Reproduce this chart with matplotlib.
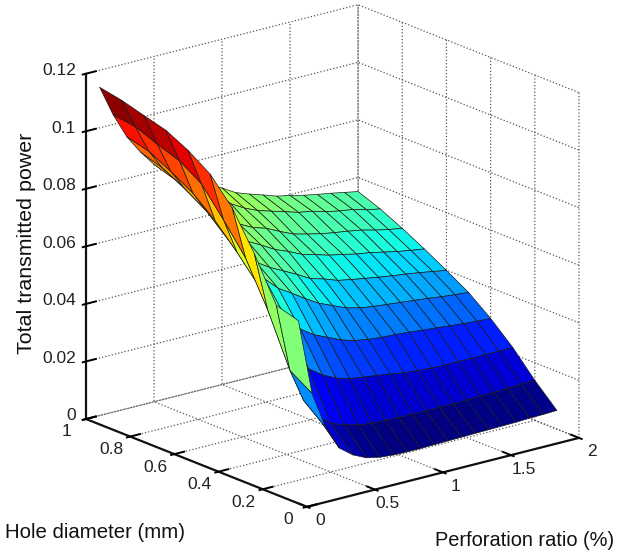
import matplotlib
matplotlib.use("Agg")
import matplotlib.pyplot as plt
import numpy as np
from mpl_toolkits.mplot3d import proj3d

# Axis grids
perforation = [0.1, 0.2, 0.3, 0.4, 0.5, 0.6, 0.7, 0.8, 0.9, 1.0,
               1.1, 1.2, 1.3, 1.4, 1.5, 1.6, 1.7, 1.8, 1.9, 2.0]
diameter = [0.1, 0.2, 0.3, 0.4, 0.5, 0.6, 0.7, 0.8, 0.9, 1.0]

# Transmitted power, one list per hole diameter
z_d01 = [.0604, .0340, .0209, .0126, .0090, .0068, .0058, .0054, .0053, .0053,
         .0054, .0055, .0056, .0057, .0058, .0059, .0060, .0062, .0063, .0065]
z_d02 = [.0627, .0389, .0273, .0208, .0169, .0152, .0140, .0133, .0131, .0130,
         .0129, .0129, .0129, .0129, .0130, .0132, .0133, .0135, .0137, .0139]
z_d03 = [.0777, .0568, .0449, .0381, .0328, .0295, .0272, .0258, .0251, .0245,
         .0238, .0230, .0226, .0223, .0221, .0221, .0221, .0222, .0222, .0223]
z_d04 = [.0905, .0718, .0606, .0528, .0470, .0424, .0392, .0371, .0350, .0336,
         .0328, .0323, .0321, .0317, .0312, .0308, .0303, .0299, .0295, .0293]
z_d05 = [.0992, .0820, .0695, .0625, .0580, .0535, .0506, .0475, .0447, .0427,
         .0407, .0395, .0388, .0383, .0378, .0373, .0368, .0362, .0357, .0353]
z_d06 = [.1044, .0915, .0775, .0695, .0640, .0595, .0565, .0541, .0517, .0490,
         .0477, .0460, .0451, .0443, .0435, .0428, .0422, .0415, .0407, .0399]
z_d07 = [.1083, .0965, .0840, .0765, .0710, .0665, .0625, .0600, .0573, .0554,
         .0532, .0519, .0505, .0496, .0485, .0478, .0468, .0458, .0450, .0443]
z_d08 = [.1104, .0992, .0885, .0815, .0755, .0705, .0665, .0643, .0619, .0604,
         .0581, .0560, .0548, .0537, .0529, .0522, .0514, .0502, .0492, .0484]
z_d09 = [.1126, .1023, .0925, .0855, .0800, .0755, .0720, .0688, .0671, .0644,
         .0623, .0609, .0595, .0581, .0573, .0559, .0550, .0543, .0530, .0521]
z_d10 = [.1141, .1033, .0945, .0880, .0825, .0785, .0750, .0725, .0705, .0683,
         .0655, .0638, .0623, .0607, .0597, .0586, .0577, .0569, .0560, .0551]

x_ticks = [0, 0.5, 1, 1.5, 2]
x_labels = ["0", "0.5", "1", "1.5", "2"]
y_ticks = [0, 0.2, 0.4, 0.6, 0.8, 1]
y_labels = ["0", "0.2", "0.4", "0.6", "0.8", "1"]
z_ticks = [0, 0.02, 0.04, 0.06, 0.08, 0.1, 0.12]
z_labels = ["0", "0.02", "0.04", "0.06", "0.08", "0.1", "0.12"]

W, H = 623, 554
TEXT = "#222222"

plt.rcParams["font.family"] = ["Liberation Sans", "DejaVu Sans"]
plt.rcParams["grid.linestyle"] = ":"
plt.rcParams["grid.color"] = "#555555"
plt.rcParams["grid.linewidth"] = 0.9

fig = plt.figure(figsize=(W / 100, H / 100), dpi=100, facecolor="white")
side = 500
ax = fig.add_axes([60 / W, 20 / H, side / W, side / H], projection="3d", proj_type="ortho")
ax.view_init(elev=18.5, azim=231.4)
ax.set_box_aspect((348, 354, 364))
ax.set_xlim(0, 2, view_margin=0)
ax.set_ylim(0, 1, view_margin=0)
ax.set_zlim(0, 0.12, view_margin=0)

X, Y = np.meshgrid(perforation, diameter)
Z = np.array([z_d01, z_d02, z_d03, z_d04, z_d05, z_d06, z_d07, z_d08, z_d09, z_d10])
colors = plt.cm.jet(plt.Normalize(Z.min(), Z.max())(Z))
ax.plot_surface(X, Y, Z, facecolors=colors, rstride=1, cstride=1, shade=False,
                edgecolor="#1a1a1a", linewidth=0.5, antialiased=True)

ax.set_xticks(x_ticks)
ax.set_yticks(y_ticks)
ax.set_zticks(z_ticks)
ax.xaxis.set_major_formatter(plt.NullFormatter())
ax.yaxis.set_major_formatter(plt.NullFormatter())
ax.zaxis.set_major_formatter(plt.NullFormatter())

for axis in (ax.xaxis, ax.yaxis, ax.zaxis):
    axis.set_pane_color((1, 1, 1, 0))
    axis.pane.set_edgecolor("none")
    axis.line.set_linewidth(1.6)
    axis.line.set_color("#111111")
    axis._axinfo["tick"]["linewidth"] = {True: 1.4, False: 1.0}
    axis._axinfo["tick"]["inward_factor"] = 0.15
    axis._axinfo["tick"]["outward_factor"] = 0.45

fig.text(95 / W, 1 - 533 / H, "Hole diameter (mm)", fontsize=14.7, ha="center", va="center", color="#111111")
fig.text(525 / W, 1 - 540 / H, "Perforation ratio (%)", fontsize=14.4, ha="center", va="center", color="#111111")
fig.text(27 / W, 1 - 243 / H, "Total transmitted power", fontsize=15.4, rotation=90,
         ha="center", va="center", color="#111111")


def point_px(x, y, z):
    u, v, _ = proj3d.proj_transform(x, y, z, ax.get_proj())
    return ax.transData.transform((u, v))


# Fit the box to the reference corners: left (86,419), right (579,438)
fig.canvas.draw()
left = point_px(0, 1, 0)
right = point_px(2, 0, 0)
side *= 493 / (right[0] - left[0])
ax.set_position([60 / W, 20 / H, side / W, side / H])
fig.canvas.draw()
left = point_px(0, 1, 0)
pos = ax.get_position()
ax.set_position([pos.x0 + (86 - left[0]) / W, pos.y0 + ((H - 419) - left[1]) / H, pos.width, pos.height])
fig.canvas.draw()


def tick_text(point, label, off_x, off_y, ha="center"):
    px, py = point_px(*point)
    fig.text((px + off_x) / W, (py - off_y) / H, label, fontsize=12.5, ha=ha, va="center", color=TEXT)


# Tick labels sit closer to the axes than mplot3d's pad allows
for t, label in zip(x_ticks, x_labels):
    tick_text((t, 0, 0), label, 13, 14)
for t, label in zip(y_ticks, y_labels):
    tick_text((0, t, 0), label, -19, 13)
for t, label in zip(z_ticks, z_labels):
    tick_text((0, 1, t), label, -10, -3, ha="right")

fig.savefig("out.png", dpi=100, facecolor="white")
